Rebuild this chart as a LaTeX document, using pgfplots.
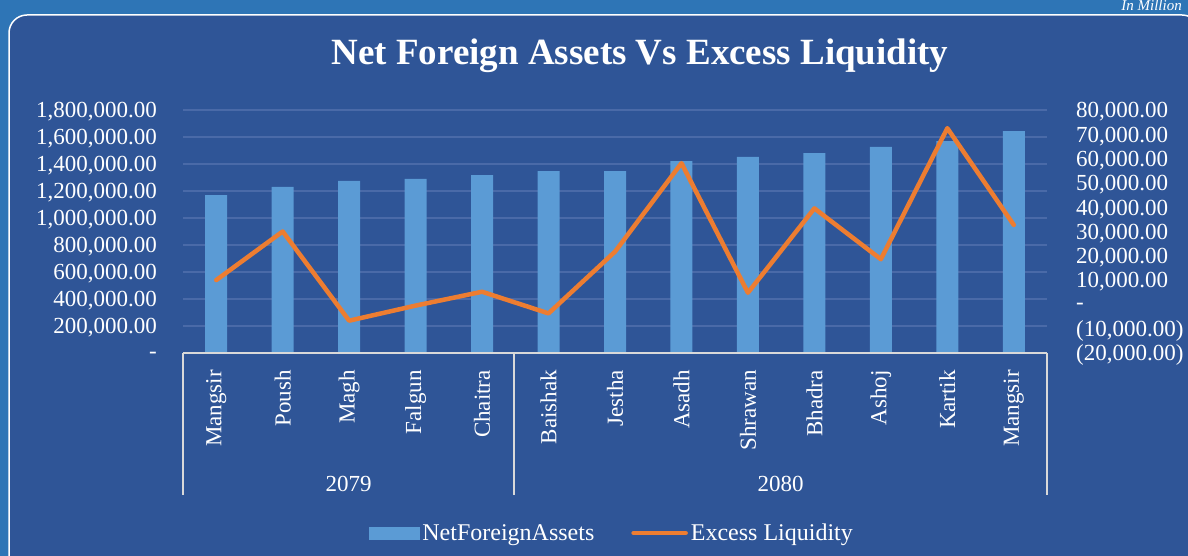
\documentclass[border=0pt]{standalone}
\usepackage{fontspec}
\setmainfont{Liberation Serif}
\usepackage{pgfplots}
\usepackage{pgfplotstable}
\pgfplotsset{compat=1.18}
\definecolor{outerbg}{HTML}{2E75B6}
\definecolor{innerbg}{HTML}{2F5597}
\definecolor{barblue}{HTML}{5B9BD5}
\definecolor{lineorange}{HTML}{ED7D31}
\definecolor{gridc}{HTML}{4A6AA8}
\definecolor{axisgray}{HTML}{D9D9D9}

\pgfplotstableread{
idx nfa el
0 1170000 10000
1 1230000 30000
2 1274000 -6700
3 1289000 -500
4 1318000 5200
5 1348000 -3700
6 1348000 21700
7 1422000 58100
8 1452000 4800
9 1481000 39500
10 1526000 18600
11 1570000 72500
12 1644000 32700
}\datatable

\begin{document}
\begin{tikzpicture}[x=1bp,y=1bp]
\useasboundingbox (0,0) rectangle (1188,556);
\begin{scope}
\clip (0,0) rectangle (1188,556);
\fill[outerbg] (0,0) rectangle (1188,556);
\node[anchor=base east, font=\fontsize{15bp}{17bp}\selectfont\itshape, text=white, inner sep=0pt] at (1182,545) {In Million};
\draw[white, line width=1.5bp, fill=innerbg, rounded corners=18bp] (9,-20) rectangle (1200,541);

\node[anchor=base, font=\fontsize{37bp}{44bp}\selectfont\bfseries, text=white, inner sep=0pt] at (640,491) {Net Foreign Assets Vs Excess Liquidity};

\begin{axis}[
  at={(183bp,203bp)}, anchor=south west,
  scale only axis, width=864bp, height=243bp,
  xmin=-0.5, xmax=12.5, ymin=0, ymax=1800000,
  scaled y ticks=false,
  axis line style={draw=none},
  major tick length=0pt, tick style={draw=none},
  ymajorgrids, grid style={gridc, line width=1.2bp},
  ytick={0,200000,400000,600000,800000,1000000,1200000,1400000,1600000,1800000},
  yticklabels={{-},{200,000.00},{400,000.00},{600,000.00},{800,000.00},{1,000,000.00},{1,200,000.00},{1,400,000.00},{1,600,000.00},{1,800,000.00}},
  xtick={0,1,2,3,4,5,6,7,8,9,10,11,12},
  xticklabels={Mangsir,Poush,Magh,Falgun,Chaitra,Baishak,Jestha,Asadh,Shrawan,Bhadra,Ashoj,Kartik,Mangsir},
  tick label style={font=\fontsize{23bp}{27bp}\selectfont, text=white, inner sep=0pt},
  yticklabel style={anchor=east, yshift=-2bp},
  yticklabel shift=26bp,
  xticklabel style={rotate=90, anchor=east},
  xticklabel shift=17bp,
]
\addplot[ybar, bar width=22bp, bar shift=0pt, fill=barblue, draw=none] table[x=idx,y=nfa]{\datatable};
\end{axis}

\begin{axis}[
  at={(183bp,203bp)}, anchor=south west,
  scale only axis, width=864bp, height=243bp,
  xmin=-0.5, xmax=12.5, ymin=-20000, ymax=80000,
  scaled y ticks=false,
  axis line style={draw=none},
  major tick length=0pt, tick style={draw=none},
  hide x axis,
  yticklabel pos=right,
  ytick={-20000,-10000,0,10000,20000,30000,40000,50000,60000,70000,80000},
  yticklabels={{(20,000.00)},{(10,000.00)},{-},{10,000.00},{20,000.00},{30,000.00},{40,000.00},{50,000.00},{60,000.00},{70,000.00},{80,000.00}},
  tick label style={font=\fontsize{23bp}{27bp}\selectfont, text=white, inner sep=0pt},
  yticklabel style={anchor=west, yshift=-2bp},
  yticklabel shift=29bp,
  legend columns=2,
  legend style={at={(0.497,-0.741)}, anchor=center, draw=none, fill=none, text=white,
    font=\fontsize{24bp}{28bp}\selectfont,
    nodes={inner sep=3bp},
    /tikz/every even column/.append style={column sep=34bp}},
]
\addlegendimage{legend image code/.code={\fill[barblue] (0bp,-6bp) rectangle (50bp,6bp);}}
\addlegendentry{NetForeignAssets}
\addplot[lineorange, line width=4.5bp, line join=round, line cap=round,
  legend image code/.code={\draw[lineorange, line width=4.5bp, line cap=round] (0bp,0bp) -- (52bp,0bp);}]
  table[x=idx,y=el]{\datatable};
\addlegendentry{Excess Liquidity}
\end{axis}

\draw[axisgray, line width=1.5bp] (183,203) -- (1047,203);
\draw[axisgray, line width=1.5bp] (183,203) -- (183,61);
\draw[axisgray, line width=1.5bp] (514,203) -- (514,61);
\draw[axisgray, line width=1.5bp] (1047,203) -- (1047,61);
\node[anchor=base, font=\fontsize{23bp}{27bp}\selectfont, text=white, inner sep=0pt] at (348.5,64) {2079};
\node[anchor=base, font=\fontsize{23bp}{27bp}\selectfont, text=white, inner sep=0pt] at (780.5,64) {2080};
\end{scope}
\end{tikzpicture}
\end{document}
